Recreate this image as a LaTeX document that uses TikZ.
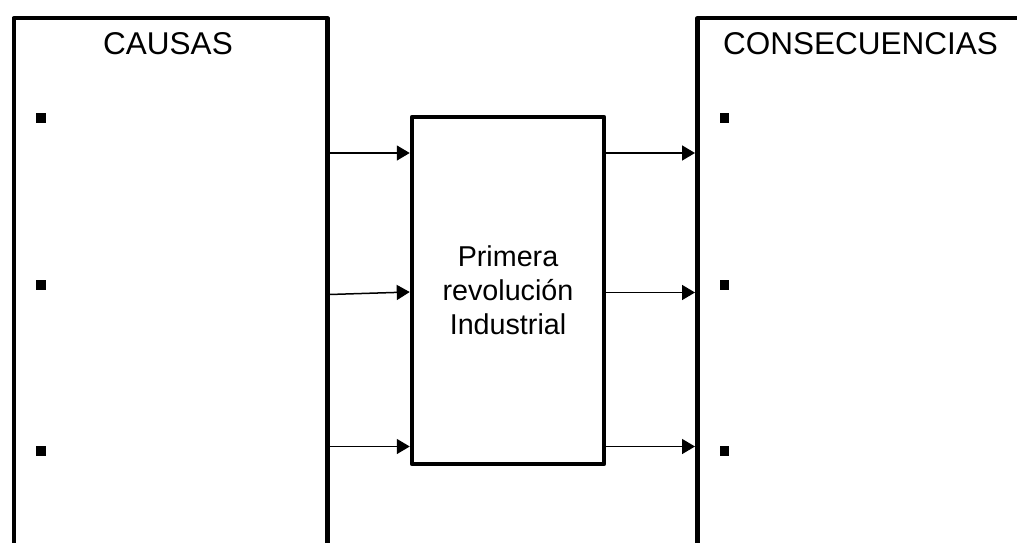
\documentclass[tikz,border=0pt]{standalone}
\usepackage{fontspec}
\setmainfont{Liberation Sans}
\usetikzlibrary{arrows.meta}
\begin{document}
\begin{tikzpicture}[x=1pt,y=-1pt,
  bigbox/.style={draw=black, line width=4.5pt, line join=round, rectangle, inner sep=0pt, anchor=north west},
  midbox/.style={draw=black, line width=4.5pt, line join=round, rectangle, inner sep=0pt, minimum width=192pt, minimum height=347pt, align=center, font=\fontsize{28.7}{34}\selectfont},
  head/.style={anchor=base, inner sep=0pt, font=\fontsize{31.5}{36}\selectfont},
  bul/.style={fill=black, rectangle, inner sep=0pt, minimum size=9.5pt},
  arr/.style={line width=1.5pt, -{Triangle[length=13pt,width=15pt]}}]
\clip (0,0) rectangle (1017,543);
\fill[white] (0,0) rectangle (1017,543);
% outer boxes (bottom / right sides run off the picture)
\node[bigbox, minimum width=313.5pt, minimum height=600pt] (L) at (11.5,16) {};
\node[bigbox, minimum width=400pt, minimum height=600pt] (R) at (695,16) {};
% middle box
\node[midbox] (mid) at (508,290.5) {Primera\\revolución\\Industrial};
% headings
\node[head] (hL) at (168,55) {CAUSAS};
\node[head] (hR) at (860.5,55) {CONSECUENCIAS};
% bullets
\node[bul] (b1) at (41,118) {};
\node[bul] (b2) at (41,285) {};
\node[bul] (b3) at (41,451) {};
\node[bul] (b4) at (724.5,118) {};
\node[bul] (b5) at (724.5,285) {};
\node[bul] (b6) at (724.5,451) {};
% arrows
\draw[arr] (L.east |- 0,153) -- (mid.west |- 0,153);
\draw[arr] (L.east |- 0,294.5) -- (mid.west |- 0,292);
\draw[arr] (L.east |- 0,446.5) -- (mid.west |- 0,446.5);
\draw[arr] (mid.east |- 0,153) -- (R.west |- 0,153);
\draw[arr] (mid.east |- 0,292.5) -- (R.west |- 0,292.5);
\draw[arr] (mid.east |- 0,446.5) -- (R.west |- 0,446.5);
\end{tikzpicture}
\end{document}
